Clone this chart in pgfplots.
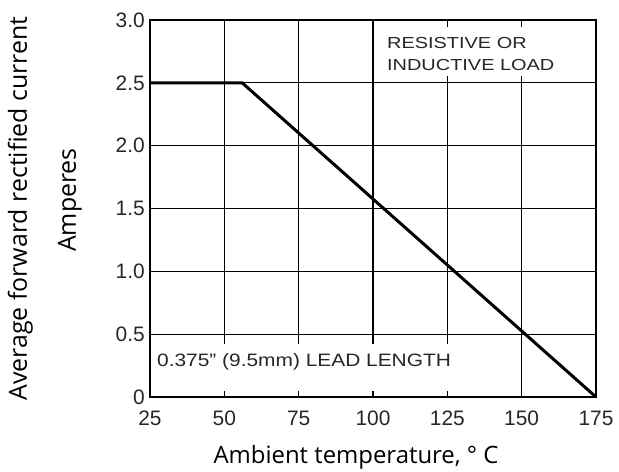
\documentclass[border=0pt]{standalone}
\usepackage{pgfplots}
\pgfplotsset{compat=1.18}
\usepackage{fontspec}
\setmainfont{Liberation Sans}
\newfontfamily\labelfont{Open Sans}
\begin{document}
\begin{tikzpicture}
\begin{axis}[
 at={(0,0)}, anchor=south west,
 scale only axis, width=446bp, height=377bp,
 xmin=25, xmax=175, ymin=0, ymax=3,
 xtick={25,50,75,100,125,150,175}, ytick={0,0.5,1,1.5,2,2.5,3},
 xticklabels={25,50,75,100,125,150,175},
 yticklabels={0,0.5,1.0,1.5,2.0,2.5,3.0},
 grid=major, grid style={black, line width=1.1bp},
 major tick length=0pt,
 axis line style={black, line width=1.4bp},
 ticklabel style={font=\fontsize{21}{21}\selectfont, text=black!85, inner sep=0pt},
 xticklabel style={anchor=north, yshift=-14bp},
 yticklabel style={anchor=east, xshift=-5bp},
 clip=false,
]
\addplot[black, line width=3bp, line join=miter] coordinates {(25,2.5) (56,2.5) (175,0)};
\coordinate (ua) at (axis cs:100.6,2.556);
\coordinate (ub) at (axis cs:174.6,2.944);
\coordinate (la) at (axis cs:25.5,0.048);
\coordinate (lb) at (axis cs:140,0.42);
\coordinate (t1) at (axis cs:104.7,2.777);
\coordinate (t2) at (axis cs:104.7,2.602);
\coordinate (t3) at (axis cs:27.35,0.239);
\end{axis}
\fill[white] (ua) rectangle (ub);
\fill[white] (la) rectangle (lb);
\node[anchor=base west, inner sep=0, text=black!85] at (t1) {\scalebox{1.25}[1]{\fontsize{16}{16}\selectfont RESISTIVE OR}};
\node[anchor=base west, inner sep=0, text=black!85] at (t2) {\scalebox{1.25}[1]{\fontsize{16}{16}\selectfont INDUCTIVE LOAD}};
\node[anchor=base west, inner sep=0, text=black!85] at (t3) {\scalebox{1.165}[1]{\fontsize{18}{18}\selectfont 0.375" (9.5mm) LEAD LENGTH}};
\node[rotate=90, anchor=base, inner sep=0] at (-123bp,188.5bp) {\labelfont\fontsize{25}{25}\selectfont Average forward rectified current};
\node[rotate=90, anchor=base, inner sep=0] at (-74bp,197bp) {\labelfont\fontsize{25}{25}\selectfont Amperes};
\node[anchor=base, inner sep=0] at (206bp,-66bp) {\labelfont\fontsize{24}{24}\selectfont Ambient temperature, ° C};
\path (-150bp,-75bp) rectangle (469bp,397bp);
\end{tikzpicture}
\end{document}
